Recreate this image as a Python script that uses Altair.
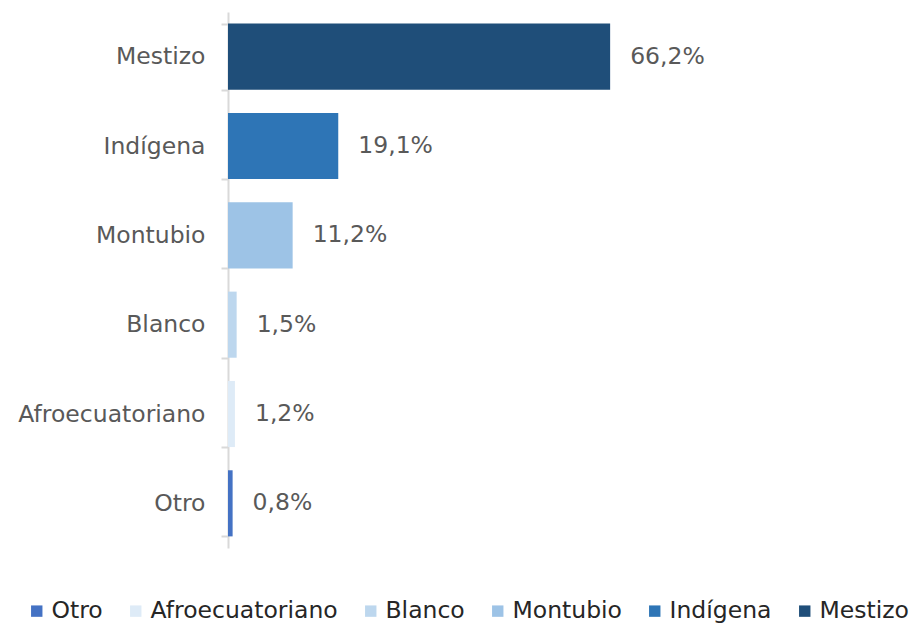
import altair as alt
import pandas as pd

categories = ["Mestizo", "Indígena", "Montubio", "Blanco", "Afroecuatoriano", "Otro"]
values = [66.2, 19.1, 11.2, 1.5, 1.2, 0.8]
legend_order = ["Otro", "Afroecuatoriano", "Blanco", "Montubio", "Indígena", "Mestizo"]
legend_colors = ["#4472C4", "#DEEBF7", "#BDD7EE", "#9DC3E6", "#2E75B6", "#1F4E79"]

df = pd.DataFrame({
    "cat": categories,
    "val": values,
    "label": [f"{v:.1f}%".replace(".", ",") for v in values],
})

FONT = "DejaVu Sans"
FS = 23.5

y_enc = alt.Y(
    "cat:N",
    sort=categories,
    title=None,
    scale=alt.Scale(paddingInner=0.26, paddingOuter=0.13),
    axis=alt.Axis(
        labelFontSize=FS,
        labelColor="#595959",
        labelFont=FONT,
        labelPadding=16,
        labelLimit=400,
        tickSize=7,
        tickColor="#D9D9D9",
        tickWidth=2,
        domainColor="#D9D9D9",
        domainWidth=2,
        tickBand="extent",
        grid=False,
    ),
)
x_enc = alt.X("val:Q", axis=None, scale=alt.Scale(domain=[0, 117.8], nice=False))

bars = alt.Chart(df).mark_bar().encode(
    y=y_enc,
    x=x_enc,
    color=alt.Color(
        "cat:N",
        scale=alt.Scale(domain=legend_order, range=legend_colors),
        legend=alt.Legend(
            orient="none",
            legendX=-203,
            legendY=587,
            direction="horizontal",
            columns=6,
            title=None,
            symbolType="square",
            symbolSize=130,
            symbolStrokeWidth=0,
            symbolOpacity=1,
            labelFontSize=FS,
            labelFont=FONT,
            labelColor="#262626",
            labelOffset=3,
            columnPadding=21,
            padding=0,
            labelLimit=400,
        ),
    ),
)

text = alt.Chart(df).mark_text(
    align="left", baseline="middle", dx=20, fontSize=FS, font=FONT, color="#595959"
).encode(y=alt.Y("cat:N", sort=categories), x=x_enc, text="label:N")

chart = (bars + text).properties(
    width=680,
    height=536,
    padding={"left": 220, "top": 4, "right": 2, "bottom": 76},
    autosize=alt.AutoSizeParams(type="none"),
).configure_view(stroke=None)

chart.save("out.html", embed_options={"renderer": "svg", "actions": False})
